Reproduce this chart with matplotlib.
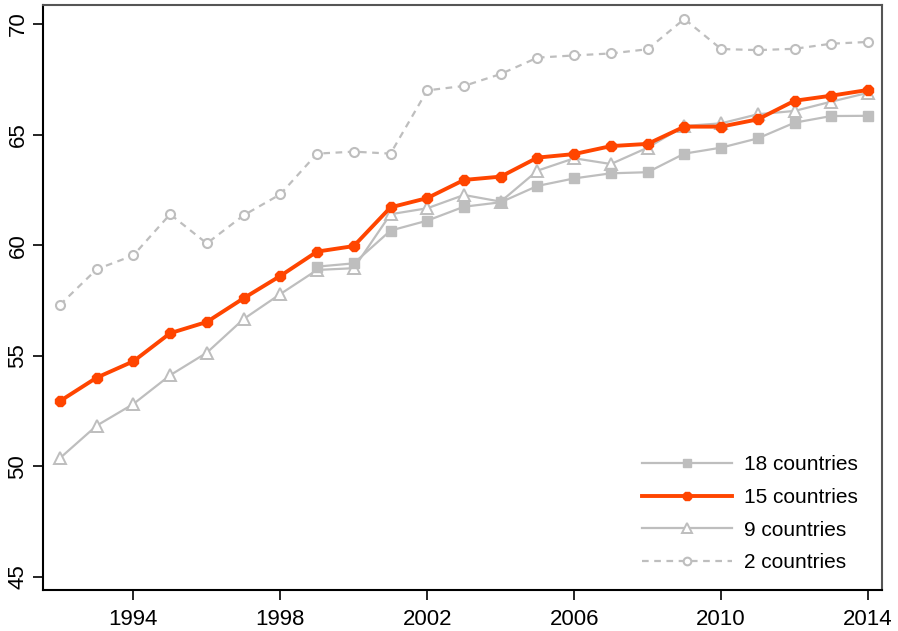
import matplotlib
matplotlib.use("Agg")
import matplotlib.pyplot as plt

years = list(range(1992, 2015))
years18 = list(range(1999, 2015))

c18 = [59.03, 59.18, 60.66, 61.11, 61.74, 61.94, 62.68, 63.02, 63.25, 63.30,
       64.14, 64.41, 64.83, 65.54, 65.84, 65.85]
c15 = [52.95, 54.01, 54.75, 56.02, 56.53, 57.60, 58.61, 59.71, 59.96, 61.71,
       62.13, 62.95, 63.10, 63.96, 64.12, 64.48, 64.58, 65.36, 65.36, 65.69,
       66.53, 66.76, 67.02]
c9 = [50.37, 51.84, 52.82, 54.12, 55.14, 56.66, 57.79, 58.88, 58.96, 61.40,
      61.67, 62.27, 61.97, 63.37, 63.93, 63.67, 64.41, 65.39, 65.51, 65.92,
      66.07, 66.49, 66.89]
c2 = [57.30, 58.91, 59.54, 61.40, 60.08, 61.35, 62.30, 64.14, 64.23, 64.14,
      67.00, 67.20, 67.74, 68.48, 68.58, 68.67, 68.86, 70.23, 68.87, 68.82,
      68.88, 69.11, 69.19]

xticks = [1994, 1998, 2002, 2006, 2010, 2014]
yticks = [45, 50, 55, 60, 65, 70]
labels = ["18 countries", "15 countries", "9 countries", "2 countries"]

plt.rcParams['font.family'] = ['Liberation Sans', 'DejaVu Sans']
gray = '#BEBEBE'
orange = '#FF4500'

fig = plt.figure(figsize=(8.98, 6.31), dpi=100)
ax = fig.add_axes([43/898, 41/631, (882-43)/898, (590-5)/631])

l2, = ax.plot(years, c2, color=gray, lw=1.6, ls=(0, (3, 2.5)), marker='o', ms=6.5,
              mfc='white', mec=gray, mew=1.5, label=labels[3])
l9, = ax.plot(years, c9, color=gray, lw=1.6, marker='^', ms=8,
              mfc='white', mec=gray, mew=1.4, label=labels[2])
l18, = ax.plot(years18, c18, color=gray, lw=1.6, marker='s', ms=7,
               mfc=gray, mec=gray, label=labels[0])
l15, = ax.plot(years, c15, color=orange, lw=2.8, marker='8', ms=8,
               mfc=orange, mec=orange, label=labels[1])

ax.set_xlim(1991.54, 2014.38)
ax.set_ylim(44.41, 70.86)
ax.set_xticks(xticks)
ax.set_yticks(yticks)
ax.tick_params(axis='both', labelsize=16, length=7, width=1.2, color='black')
ax.tick_params(axis='x', pad=7)
for lab in ax.get_yticklabels():
    lab.set_rotation(90)
    lab.set_va('center')
for s in ['left', 'bottom']:
    ax.spines[s].set_color('black')
    ax.spines[s].set_linewidth(1.5)
for s in ['top', 'right']:
    ax.spines[s].set_color('#555555')
    ax.spines[s].set_linewidth(1.5)

ax.legend([l18, l15, l9, l2], labels, loc='lower right', frameon=False,
          fontsize=15, handlelength=4.3, handletextpad=0.55, labelspacing=0.66,
          markerscale=0.85, bbox_to_anchor=(0.993, -0.002))

fig.savefig('out.png', dpi=100)
